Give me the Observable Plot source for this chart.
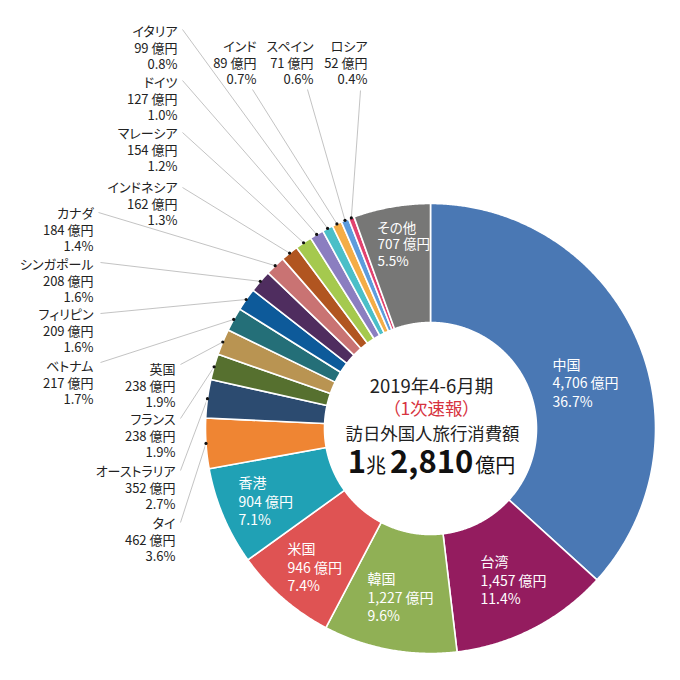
<!DOCTYPE html>
<html><head><meta charset="utf-8">
<script src="https://cdn.jsdelivr.net/npm/d3@7"></script>
<script src="https://cdn.jsdelivr.net/npm/@observablehq/plot@0.6"></script>
<style>
html,body{margin:0;padding:0;background:#fff;}
</style></head><body><div id="chart"></div>
<script>
// ---- data ----
const countries = ["中国","台湾","韓国","米国","香港","タイ","オーストラリア","フランス","英国","ベトナム","フィリピン","シンガポール","カナダ","インドネシア","マレーシア","ドイツ","イタリア","インド","スペイン","ロシア","その他"];
const spending = [4706,1457,1227,946,904,462,352,238,238,217,209,208,184,162,154,127,99,89,71,52,707];
const shares = [36.7,11.4,9.6,7.4,7.1,3.6,2.7,1.9,1.9,1.7,1.6,1.6,1.4,1.3,1.2,1.0,0.8,0.7,0.6,0.4,5.5];
const colors = ["#4a78b4","#941c5f","#90b055","#df5353","#20a1b5","#ef8533","#2c4b70","#56702f","#b99452","#246f78","#0d5a9a","#4f2d5f","#c97373","#b15520","#a5c94e","#8b7ec0","#4bbfc8","#f4ad47","#5d9cdc","#e2426f","#777776"];
const centerTitle = "2019年4-6月期";
const centerSub = "（1次速報）";
const centerLabel = "訪日外国人旅行消費額";
const totalParts = [["1", "bold", 31], ["兆", "normal", 20], ["2,810", "bold", 31], ["億円", "normal", 20]];

// ---- layout (pixel space of the 680x680 frame) ----
const CX = 430, CY = 428, R_OUT = 225, R_IN = 106;
const insideLayout = [ // name, left x, first line center y, font size, line spacing
  ["中国", 552, 363, 14, 18.8],
  ["台湾", 480, 561, 14, 18.5],
  ["韓国", 367, 578, 14, 18.5],
  ["米国", 287, 548, 14, 18.5],
  ["香港", 238, 482, 14, 18.2],
  ["その他", 377, 227, 13.5, 16.5]
];
const outsideLayout = [ // name, text right x, first line center y, leader start x, y
  ["イタリア", 177, 30, 182, 29],
  ["ドイツ", 177, 81, 182, 80],
  ["マレーシア", 177, 132, 182, 132],
  ["インドネシア", 177, 186, 182, 187],
  ["カナダ", 93, 212, 98, 212],
  ["シンガポール", 93, 263, 100, 262],
  ["フィリピン", 93, 313, 100, 313],
  ["ベトナム", 93, 365, 100, 362],
  ["英国", 175, 368, 180, 364],
  ["フランス", 175, 418, 180, 418],
  ["オーストラリア", 175, 470, 180, 470],
  ["タイ", 175, 522, 180, 522],
  ["インド", 256, 45, 252, 89],
  ["スペイン", 313, 45, 307, 89],
  ["ロシア", 367, 45, 360, 90]
];

// ---- derived geometry ----
const total = d3.sum(spending);
const fmt = d3.format(",");
const pt = (r, a) => [CX + r * Math.sin(a), CY - r * Math.cos(a)];
let cum = 0;
const slices = countries.map((name, i) => {
  const a0 = cum / total * 2 * Math.PI;
  cum += spending[i];
  const a1 = cum / total * 2 * Math.PI;
  return {name, value: spending[i], share: shares[i], a0, a1, mid: (a0 + a1) / 2};
});
const byName = new Map(slices.map(s => [s.name, s]));
const poly = [];
for (const s of slices) {
  const n = Math.max(2, Math.ceil((s.a1 - s.a0) * 180 / Math.PI * 3));
  for (let k = 0; k <= n; k++) { const a = s.a0 + (s.a1 - s.a0) * k / n; const [x, y] = pt(R_OUT, a); poly.push({name: s.name, x, y}); }
  for (let k = n; k >= 0; k--) { const a = s.a0 + (s.a1 - s.a0) * k / n; const [x, y] = pt(R_IN, a); poly.push({name: s.name, x, y}); }
}
const labelText = s => `${s.name}\n${fmt(s.value)} 億円\n${s.share.toFixed(1)}%`;

const inside = insideLayout.map(([name, x, y, fs, sp]) => ({s: byName.get(name), x, y: y + sp, fs, lh: sp / fs}));
const outside = outsideLayout.map(([name, tx, ty, lx, ly]) => {
  const s = byName.get(name);
  const [dx, dy] = pt(R_OUT, s.mid);
  return {s, tx, ty: ty + 16.8, lx, ly, dx, dy};
});

const insideMarks = inside.map(d => Plot.text([d], {x: "x", y: "y", text: d => labelText(d.s), textAnchor: "start", lineAnchor: "middle", lineHeight: d.lh, fontSize: d.fs, fill: "white"}));

const plot = Plot.plot({
  width: 680, height: 680, margin: 0,
  x: {domain: [0, 680], range: [0, 680], axis: null},
  y: {domain: [0, 680], range: [0, 680], axis: null},
  color: {domain: countries, range: colors},
  style: 'font-family: "Noto Sans CJK JP", sans-serif; font-feature-settings: "palt"; background: white;',
  marks: [
    Plot.link(outside, {x1: "lx", y1: "ly", x2: "dx", y2: "dy", stroke: "#bcbcbc", strokeWidth: 0.9}),
    Plot.line(poly, {x: "x", y: "y", z: "name", fill: "name", stroke: "white", strokeWidth: 1.6, curve: "linear-closed"}),
    Plot.dot(outside, {x: "dx", y: "dy", r: 1.6, fill: "#111", stroke: null}),
    Plot.text(outside, {x: "tx", y: "ty", text: d => labelText(d.s), textAnchor: "end", lineAnchor: "middle", lineHeight: 1.29, fontSize: 13, fill: "#222"}),
    ...insideMarks,
    Plot.text([centerTitle], {x: () => 431, y: () => 387, text: d => d, fontSize: 18.5, fill: "#222"}),
    Plot.text([centerSub], {x: () => 431, y: () => 409, text: d => d, fontSize: 17.5, fill: "#d7343f"}),
    Plot.text([centerLabel], {x: () => 432, y: () => 434, text: d => d, fontSize: 17.4, fill: "#222"}),
    Plot.text(["TOTAL"], {x: () => 431, y: () => 463, text: d => d, fontSize: 31, fill: "#111"})
  ]
});

// mixed-size total line
d3.select(plot).selectAll("text").filter(function() { return this.textContent === "TOTAL"; }).each(function() {
  const t = d3.select(this);
  t.text(null);
  totalParts.forEach(([txt, w, fs], i) => {
    t.append("tspan").attr("font-weight", w).attr("font-size", fs).attr("dx", i === 2 ? 4 : (i === 3 ? 2 : 0)).text(txt);
  });
});
document.getElementById("chart").appendChild(plot);
</script></body></html>
